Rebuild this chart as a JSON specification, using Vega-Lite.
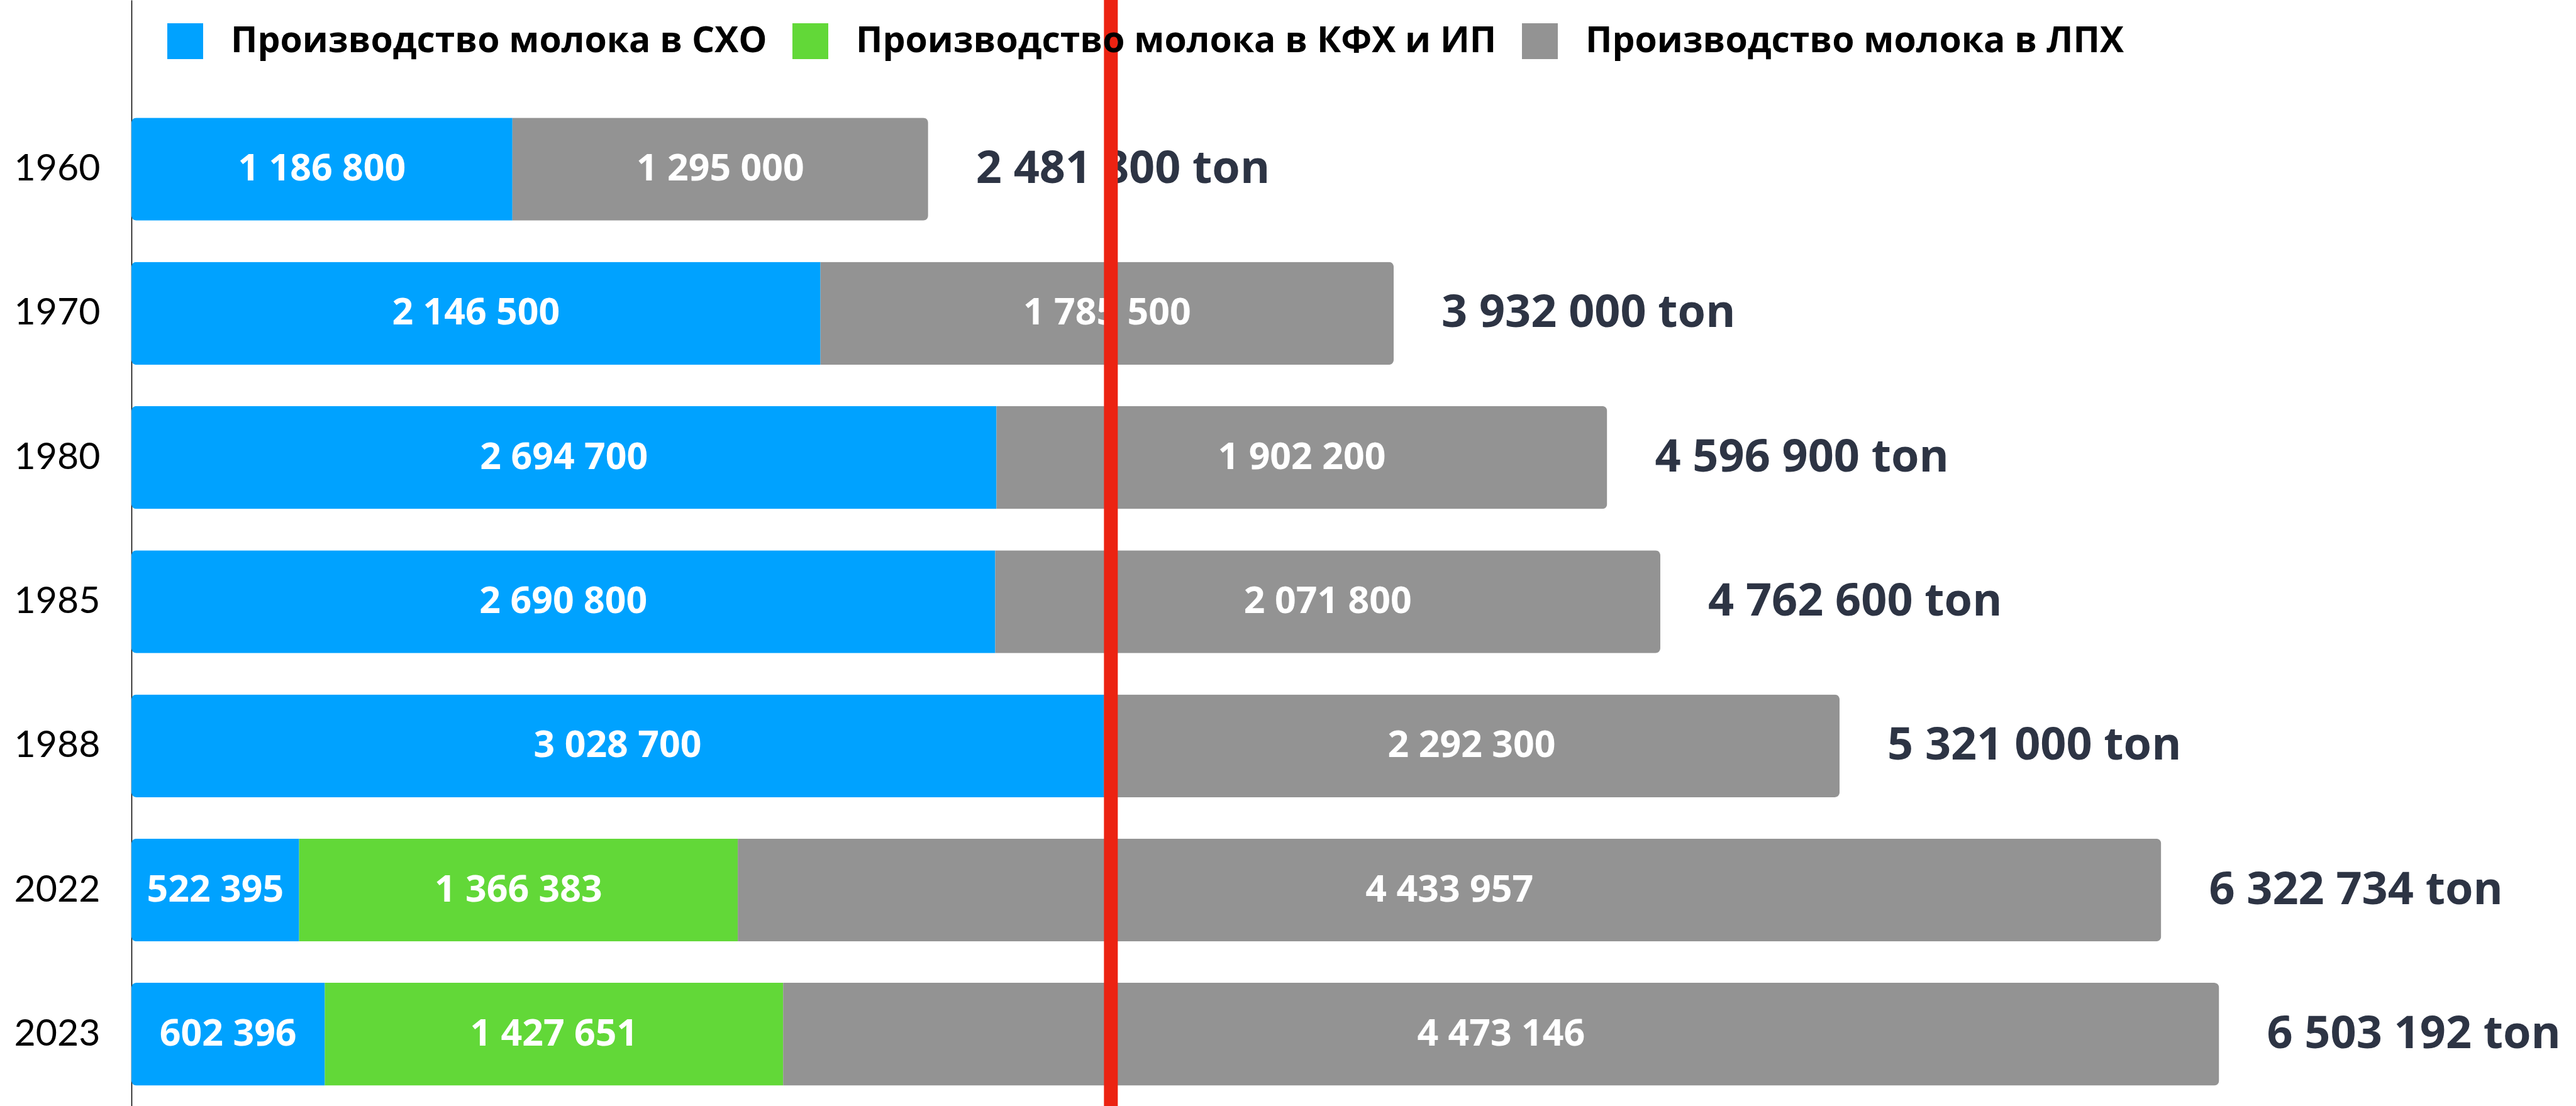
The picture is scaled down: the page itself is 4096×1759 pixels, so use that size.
{
  "$schema": "https://vega.github.io/schema/vega-lite/v6.json",
  "width": 3887,
  "height": 1759,
  "autosize": {"type": "none"},
  "padding": {"left": 209, "top": 0, "right": 0, "bottom": 0},
  "background": "white",
  "config": {
    "view": {"stroke": null},
    "font": "Open Sans",
    "locale": {"number": {"decimal": ",", "thousands": " ", "grouping": [3], "currency": ["", ""]}},
    "axisY": {"labelFont": "Lato", "labelFontSize": 59, "labelColor": "#000000", "labelFontWeight": "normal", "labelPadding": 50, "ticks": false, "domainColor": "#000000", "domainWidth": 1.5, "grid": false}
  },
  "datasets": {
    "parts": [
      {"year": "1960", "cat": "Производство молока в СХО", "k": 1, "v": 1186800},
      {"year": "1960", "cat": "Производство молока в ЛПХ", "k": 3, "v": 1295000},
      {"year": "1970", "cat": "Производство молока в СХО", "k": 1, "v": 2146500},
      {"year": "1970", "cat": "Производство молока в ЛПХ", "k": 3, "v": 1785500},
      {"year": "1980", "cat": "Производство молока в СХО", "k": 1, "v": 2694700},
      {"year": "1980", "cat": "Производство молока в ЛПХ", "k": 3, "v": 1902200},
      {"year": "1985", "cat": "Производство молока в СХО", "k": 1, "v": 2690800},
      {"year": "1985", "cat": "Производство молока в ЛПХ", "k": 3, "v": 2071800},
      {"year": "1988", "cat": "Производство молока в СХО", "k": 1, "v": 3028700},
      {"year": "1988", "cat": "Производство молока в ЛПХ", "k": 3, "v": 2292300},
      {"year": "2022", "cat": "Производство молока в СХО", "k": 1, "v": 522395},
      {"year": "2022", "cat": "Производство молока в КФХ и ИП", "k": 2, "v": 1366383},
      {"year": "2022", "cat": "Производство молока в ЛПХ", "k": 3, "v": 4433957},
      {"year": "2023", "cat": "Производство молока в СХО", "k": 1, "v": 602396},
      {"year": "2023", "cat": "Производство молока в КФХ и ИП", "k": 2, "v": 1427651},
      {"year": "2023", "cat": "Производство молока в ЛПХ", "k": 3, "v": 4473146}
    ],
    "totals": [
      {"year": "1960", "total": 2481800, "label": "2 481 800 ton"},
      {"year": "1970", "total": 3932000, "label": "3 932 000 ton"},
      {"year": "1980", "total": 4596900, "label": "4 596 900 ton"},
      {"year": "1985", "total": 4762600, "label": "4 762 600 ton"},
      {"year": "1988", "total": 5321000, "label": "5 321 000 ton"},
      {"year": "2022", "total": 6322734, "label": "6 322 734 ton"},
      {"year": "2023", "total": 6503192, "label": "6 503 192 ton"}
    ]
  },
  "layer": [
    {
      "data": {"name": "parts"},
      "mark": {"type": "bar", "cornerRadius": 8},
      "encoding": {
        "y": {"field": "year", "type": "nominal", "title": null,
              "scale": {"domain": ["1960", "1970", "1980", "1985", "1988", "2022", "2023"], "paddingInner": 0.2865, "paddingOuter": 0.479, "align": 0.8525, "round": false}},
        "x": {"field": "v", "type": "quantitative", "stack": "zero", "title": null, "axis": null,
              "scale": {"domain": [0, 7615000], "nice": false, "zero": true}},
        "order": {"field": "k", "type": "quantitative", "sort": "ascending"},
        "color": {"field": "cat", "type": "nominal",
                  "scale": {"domain": ["Производство молока в СХО", "Производство молока в КФХ и ИП", "Производство молока в ЛПХ"], "range": ["#00A2FF", "#62D838", "#939393"]},
                  "legend": {"orient": "none", "legendX": 57, "legendY": 37, "direction": "horizontal", "columns": 3, "title": null,
                             "symbolType": "square", "symbolSize": 3249, "symbolStrokeWidth": 0, "symbolOpacity": 1,
                             "labelFont": "Open Sans", "labelFontSize": 57, "labelFontWeight": "bold", "labelColor": "#000000",
                             "labelOffset": 44, "columnPadding": 40, "labelLimit": 0}}
      }
    },
    {
      "data": {"name": "parts"},
      "transform": [
        {"stack": "v", "groupby": ["year"], "sort": [{"field": "k", "order": "ascending"}], "as": ["v0", "v1"]},
        {"calculate": "(datum.v0 + datum.v1) / 2", "as": "vmid"}
      ],
      "mark": {"type": "text", "align": "center", "baseline": "middle", "fontSize": 59, "fontWeight": "bold", "color": "#FFFFFF", "font": "Open Sans"},
      "encoding": {
        "y": {"field": "year", "type": "nominal", "title": null},
        "x": {"field": "vmid", "type": "quantitative", "title": null},
        "text": {"field": "v", "type": "quantitative", "format": ",d"}
      }
    },
    {
      "data": {"name": "totals"},
      "mark": {"type": "text", "align": "left", "baseline": "middle", "dx": 76, "fontSize": 72, "fontWeight": "bold", "color": "#2D3444", "font": "Open Sans"},
      "encoding": {
        "y": {"field": "year", "type": "nominal", "title": null},
        "x": {"field": "total", "type": "quantitative", "title": null},
        "text": {"field": "label", "type": "nominal"}
      }
    },
    {
      "data": {"values": [{"pos": 3051000}]},
      "mark": {"type": "rule", "color": "#EC2312", "strokeWidth": 22},
      "encoding": {"x": {"field": "pos", "type": "quantitative"}}
    }
  ]
}
